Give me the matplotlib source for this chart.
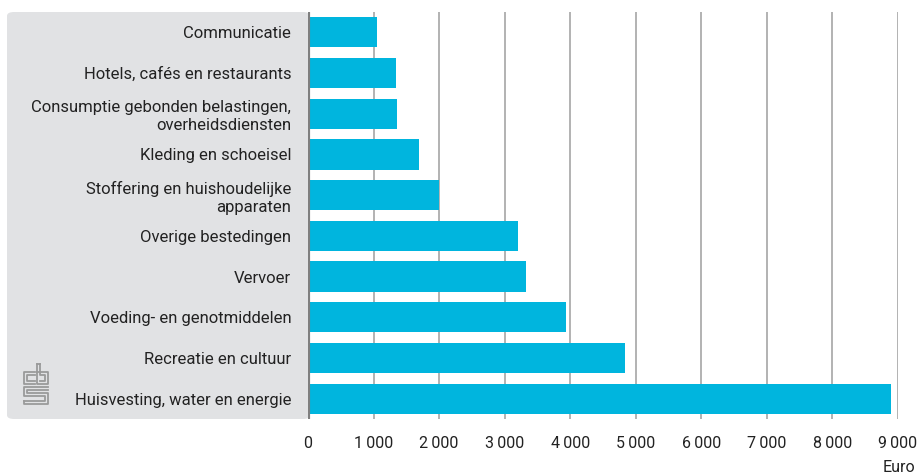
import matplotlib.pyplot as plt
from matplotlib.patches import FancyBboxPatch
from matplotlib.ticker import FuncFormatter

categories = [
    'Communicatie',
    'Hotels, cafés en restaurants',
    'Consumptie gebonden belastingen,\noverheidsdiensten',
    'Kleding en schoeisel',
    'Stoffering en huishoudelijke\napparaten',
    'Overige bestedingen',
    'Vervoer',
    'Voeding- en genotmiddelen',
    'Recreatie en cultuur',
    'Huisvesting, water en energie',
]
values = [1060, 1340, 1360, 1700, 2000, 3200, 3320, 3930, 4830, 8890]
xticks = [0, 1000, 2000, 3000, 4000, 5000, 6000, 7000, 8000, 9000]

plt.rcParams['font.family'] = ['Roboto', 'DejaVu Sans']
bar_color = '#00b5de'
grid_color = '#a6a6a6'
text_color = '#222222'

fig = plt.figure(figsize=(9.2, 4.75), dpi=100)

# grey label panel behind the category labels
panel = FancyBboxPatch((7 / 920, 1 - 419 / 475), 303 / 920, 407 / 475,
                       boxstyle='round,pad=0,rounding_size=0.008',
                       transform=fig.transFigure, facecolor='#e1e2e4',
                       edgecolor='none', zorder=-5)
fig.patches.append(panel)

ax = fig.add_axes([308 / 920, 1 - 419 / 475, 590 / 920, 407 / 475])

ypos = list(range(len(categories)))
ax.barh(ypos, values, height=0.74, color=bar_color, zorder=3)

ax.set_xlim(0, 9000)
ax.set_ylim(len(categories) - 0.5, -0.5)
ax.set_xticks(xticks)
ax.xaxis.set_major_formatter(FuncFormatter(lambda v, p: f'{int(v):,}'.replace(',', '\u2009')))
ax.set_yticks(ypos)
ax.set_yticklabels(categories, fontsize=12, color=text_color, linespacing=1.2)
ax.tick_params(axis='y', length=0, pad=12)
ax.tick_params(axis='x', length=0, pad=12, labelsize=11.5, labelcolor=text_color)

for t in xticks[1:]:
    ax.axvline(t, color=grid_color, lw=1.2, zorder=1)
ax.axvline(0, color='#7f7f7f', lw=3, zorder=4)

for s in ax.spines.values():
    s.set_visible(False)
ax.patch.set_alpha(0)

fig.text(915 / 920, 1 - 467 / 475, 'Euro', ha='right', va='center',
         fontsize=11.5, color=text_color)

# small cbs logo in the panel
logo = fig.add_axes([22 / 920, 1 - 406 / 475, 28 / 920, 44 / 475])
logo.set_xlim(0, 28)
logo.set_ylim(44, 0)
logo.axis('off')
lc = '#9a9a9a'
lw = 1.3
# c
logo.plot([13, 2, 2, 13], [10, 10, 22, 22], color=lc, lw=lw)
logo.plot([13, 5, 5, 13], [13, 13, 19, 19], color=lc, lw=lw)
# b
logo.plot([15, 15, 26, 26, 15], [2, 22, 22, 10, 10], color=lc, lw=lw)
logo.plot([18, 18, 23, 23, 18], [2, 13, 13, 19, 19], color=lc, lw=lw)
logo.plot([15, 18], [2, 2], color=lc, lw=lw)
# s
logo.plot([26, 2, 2, 23, 23, 2], [25, 25, 34, 34, 39, 39], color=lc, lw=lw)
logo.plot([26, 5, 5, 26, 26, 2, 2], [28, 28, 31, 31, 42, 42, 39], color=lc, lw=lw)

fig.savefig('out.png', dpi=100)
